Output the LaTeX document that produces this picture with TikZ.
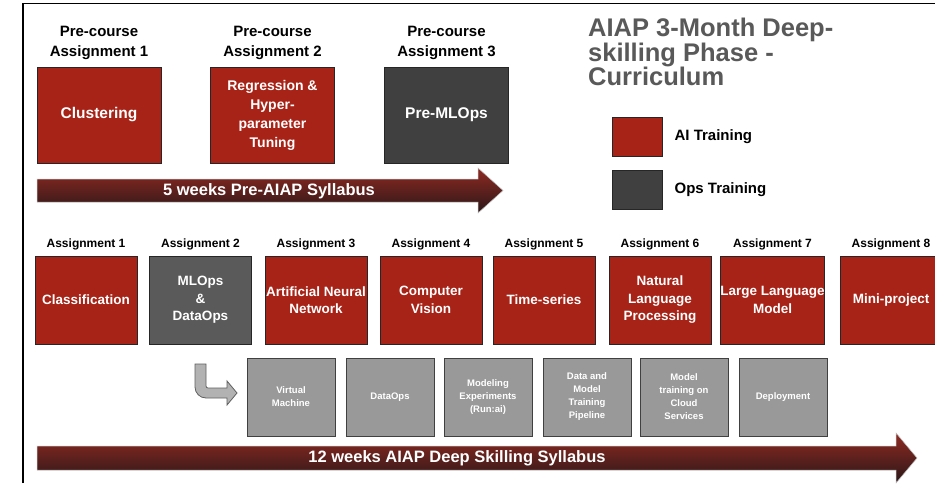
\documentclass[tikz,border=0pt]{standalone}
\usepackage{fontspec}
\setmainfont{Liberation Sans}
\usetikzlibrary{positioning}

% 颜色定义
\definecolor{aired}{HTML}{A82317}     % AI 训练 (红色)
\definecolor{opsdark}{HTML}{404040}   % Ops 训练 (深灰)
\definecolor{opsmid}{HTML}{5A5A5A}    % Assignment 2 (中灰)
\definecolor{subgray}{HTML}{999999}   % 子任务方框
\definecolor{titlegray}{HTML}{595959} % 标题文字
\definecolor{arrowtop}{HTML}{8F2A22}  % 箭头渐变 (上)
\definecolor{arrowbot}{HTML}{2A1718}  % 箭头渐变 (下)

\newcommand{\fs}[2]{\fontsize{#1}{#2}\selectfont\bfseries}

\tikzset{
	prebox/.style={draw=black!85, line width=0.8pt, minimum width=124pt, minimum height=96pt, inner sep=0pt, text=white, align=center, font=\fs{15.5}{19}},
	asgbox/.style={draw=black!85, line width=0.8pt, minimum width=102pt, minimum height=88pt, inner sep=0pt, text=white, align=center, font=\fs{13.5}{17.5}},
	subbox/.style={draw=opsdark, line width=0.8pt, fill=subgray, minimum width=88pt, minimum height=78pt, inner sep=0pt, text=white, align=center, font=\fs{9.5}{13}},
	headtext/.style={inner sep=0pt, align=center, font=\fs{15}{20}},
	asgtext/.style={inner sep=0pt, font=\fs{12}{14}},
	legbox/.style={draw=black!85, line width=0.8pt, minimum width=50pt, minimum height=39pt, inner sep=0pt},
	legtext/.style={inner sep=0pt, anchor=west, font=\fs{15}{16}},
	weektext/.style={inner sep=0pt, text=white, font=\fs{16.5}{18}},
}

\begin{document}
\begin{tikzpicture}[x=1pt, y=-1pt]
	
	% 画布大小 (935 x 483)
	\useasboundingbox (0,0) rectangle (935,483);
	\fill[white] (0,0) rectangle (935,483);
	
	% 外框 (左边和上边)
	\draw[line width=1.6pt] (23,483) -- (23,3.5) -- (935,3.5);
	
	% 预备课程方框
	\node[prebox, fill=aired] (pre1) at (99,115) {Clustering};
	\node[prebox, fill=aired, font=\fs{14}{19}] (pre2) at (272.5,115) {Regression \&\\Hyper-\\parameter\\Tuning};
	\node[prebox, fill=opsdark] (pre3) at (446.5,115) {Pre-MLOps};
	\node[headtext, above=7pt of pre1] (prehead1) {Pre-course\\Assignment 1};
	\node[headtext, above=7pt of pre2] (prehead2) {Pre-course\\Assignment 2};
	\node[headtext, above=7pt of pre3] (prehead3) {Pre-course\\Assignment 3};
	
	% 5 周箭头
	\shadedraw[top color=arrowtop, bottom color=arrowbot, draw=gray!50, line width=0.5pt]
		(37,179) -- (478,179) -- (478,168) -- (503,190.5) -- (478,213) -- (478,202) -- (37,202) -- cycle;
	\node[weektext] (week5) at (269,191) {5 weeks Pre-AIAP Syllabus};
	
	% 标题
	\node[anchor=north west, inner sep=0pt, align=left, text=titlegray, font=\fs{25.5}{24.5}] (title) at (588,18)
		{AIAP 3-Month Deep-\\skilling Phase -\\Curriculum};
	
	% 图例
	\node[legbox, fill=aired] (legai) at (637,137) {};
	\node[legbox, fill=opsdark] (legops) at (637,190) {};
	\node[legtext, right=12pt of legai] (legaitext) {AI Training};
	\node[legtext, right=12pt of legops] (legopstext) {Ops Training};
	
	% 正式课程方框
	\node[asgbox, fill=aired] (asg1) at (86,300) {Classification};
	\node[asgbox, fill=opsmid] (asg2) at (200.5,300) {MLOps\\\&\\DataOps};
	\node[asgbox, fill=aired] (asg3) at (316,300) {Artificial Neural\\Network};
	\node[asgbox, fill=aired] (asg4) at (431,300) {Computer\\Vision};
	\node[asgbox, fill=aired] (asg5) at (544,300) {Time-series};
	\node[asgbox, fill=aired] (asg6) at (660,300) {Natural\\Language\\Processing};
	\node[asgbox, fill=aired] (asg7) at (772.5,300) {Large Language\\Model};
	\node[asgbox, fill=aired] (asg8) at (891,300) {Mini-project};
	\foreach \i in {1,...,8}
		\node[asgtext, above=5pt of asg\i] (asghead\i) {Assignment \i};
	
	% 拐弯箭头
	\filldraw[fill=gray!60, draw=gray!75!black, line width=0.8pt]
		(206,364) -- (195,364) [rounded corners=11pt] -- (195,398) [sharp corners] -- (227,398)
		-- (227,405) -- (237,393) -- (227,381) -- (227,388) [rounded corners=2pt] -- (206,388) [sharp corners] -- cycle;
	
	% 子任务方框
	\node[subbox] (sub1) at (291,397) {Virtual\\Machine};
	\node[subbox] (sub2) at (390,397) {DataOps};
	\node[subbox] (sub3) at (488,397) {Modeling\\Experiments\\(Run:ai)};
	\node[subbox] (sub4) at (587,397) {Data and\\Model\\Training\\Pipeline};
	\node[subbox] (sub5) at (684,397) {Model\\training on\\Cloud\\Services};
	\node[subbox] (sub6) at (783,397) {Deployment};
	
	% 12 周箭头
	\shadedraw[top color=arrowtop, bottom color=arrowbot, draw=gray!50, line width=0.5pt]
		(37,446) -- (896,446) -- (896,433) -- (917,458) -- (896,483) -- (896,470) -- (37,470) -- cycle;
	\node[weektext] (week12) at (457,458) {12 weeks AIAP Deep Skilling Syllabus};
	
\end{tikzpicture}
\end{document}
